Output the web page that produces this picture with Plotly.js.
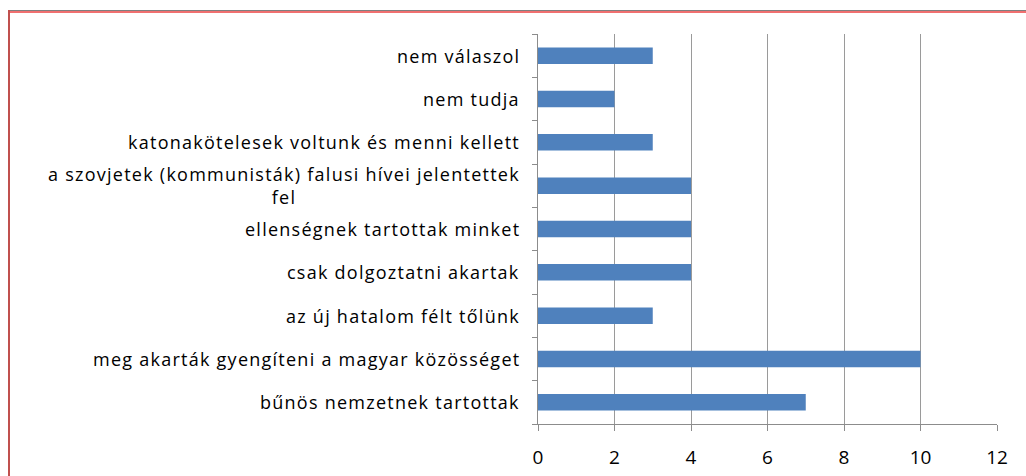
<!DOCTYPE html>
<html>
<head>
<meta charset="utf-8">
<script src="https://cdn.plot.ly/plotly-3.0.1.min.js"></script>
<style>
  html, body { margin: 0; padding: 0; background: #fff; }
  #wrap { position: relative; width: 1026px; height: 476px; overflow: hidden; }
  #chart { position: absolute; left: 0; top: 0; width: 1026px; height: 476px; }
  .frame-top1 { position: absolute; left: 8px; top: 10px; width: 1018px; height: 1px; background: #7f7f7f; z-index: 2; }
  .frame-top2 { position: absolute; left: 8px; top: 11px; width: 1018px; height: 2px; background: #f07070; z-index: 2; }
  .frame-left { position: absolute; left: 8px; top: 10px; width: 2px; height: 466px; background: #c0504d; z-index: 2; }
  .annotation-text { letter-spacing: 1.25px; }
</style>
</head>
<body>
<div id="wrap">
  <div id="chart"></div>
  <div class="frame-top1"></div>
  <div class="frame-top2"></div>
  <div class="frame-left"></div>
</div>
<script>
// Categories listed bottom to top
const categories = [
  "bűnös nemzetnek tartottak",
  "meg akarták gyengíteni a magyar közösséget",
  "az új hatalom félt tőlünk",
  "csak dolgoztatni akartak",
  "ellenségnek tartottak minket",
  "a szovjetek (kommunisták) falusi hívei jelentettek fel",
  "katonakötelesek voltunk és menni kellett",
  "nem tudja",
  "nem válaszol"
];
const labelText = [
  "bűnös nemzetnek tartottak",
  "meg akarták gyengíteni a magyar közösséget",
  "az új hatalom félt tőlünk",
  "csak dolgoztatni akartak",
  "ellenségnek tartottak minket",
  "a szovjetek (kommunisták) falusi hívei jelentettek<br>fel",
  "katonakötelesek voltunk és menni kellett",
  "nem tudja",
  "nem válaszol"
];
const values = [7, 10, 3, 4, 4, 4, 3, 2, 3];
const xTicks = [0, 2, 4, 6, 8, 10, 12];

const font = "Open Sans, Noto Sans, sans-serif";

const annotations = categories.map((c, i) => ({
  xref: "paper", x: 0, xanchor: "right", xshift: -16,
  yref: "y", y: c, yanchor: "middle",
  text: labelText[i], showarrow: false, align: "center",
  font: { family: font, size: 18, color: "#000" }
}));

const trace = {
  type: "bar",
  orientation: "h",
  x: values,
  y: categories,
  marker: { color: "#4F81BD", line: { width: 0 } },
  hoverinfo: "x+y"
};

const layout = {
  width: 1026, height: 476,
  margin: { l: 538, r: 29, t: 34, b: 52, pad: 0 },
  paper_bgcolor: "#ffffff",
  plot_bgcolor: "#ffffff",
  showlegend: false,
  bargap: 0.62,
  font: { family: font, size: 18, color: "#000" },
  xaxis: {
    range: [0, 12],
    tickvals: xTicks,
    ticktext: xTicks.map(String),
    showgrid: true, gridcolor: "#9a9a9a", gridwidth: 1,
    zeroline: false,
    showline: true, linecolor: "#8c8c8c", linewidth: 1,
    ticks: "outside", ticklen: 6, tickcolor: "#8c8c8c",
    ticklabelstandoff: 10,
    tickfont: { family: font, size: 19, color: "#000" },
    fixedrange: true
  },
  yaxis: {
    type: "category",
    categoryorder: "array",
    categoryarray: categories,
    showticklabels: false,
    tickson: "boundaries",
    ticks: "outside", ticklen: 5, tickcolor: "#8c8c8c",
    showgrid: false,
    zeroline: false,
    showline: true, linecolor: "#8c8c8c", linewidth: 1,
    fixedrange: true
  },
  annotations: annotations
};

Plotly.newPlot("chart", [trace], layout, { displayModeBar: false, staticPlot: true });
</script>
</body>
</html>
